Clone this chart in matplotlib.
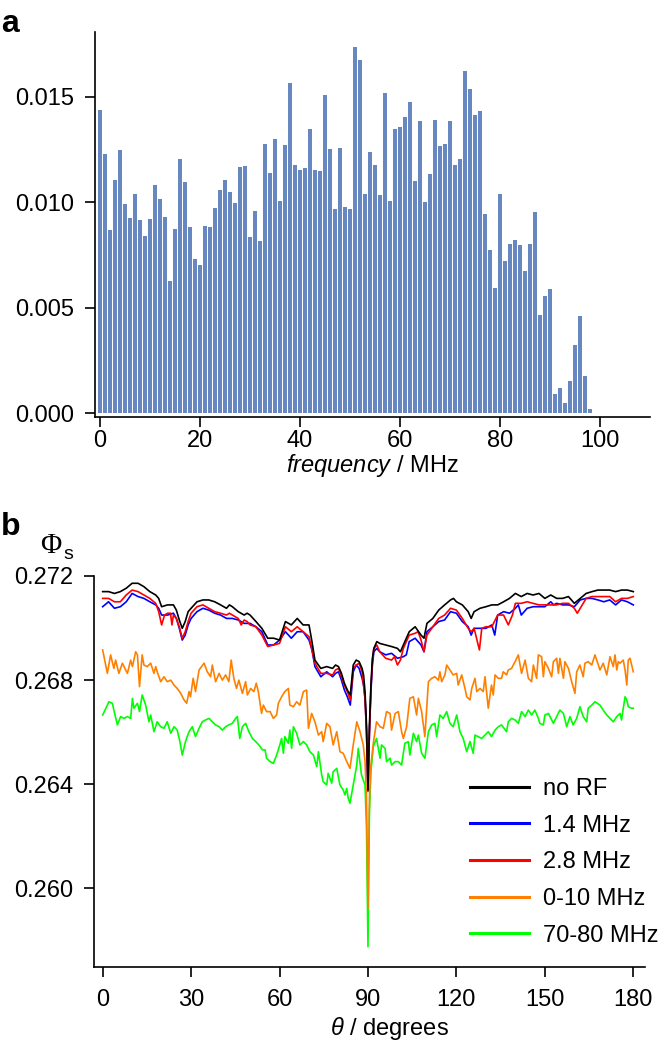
import matplotlib
matplotlib.use("Agg")
import matplotlib.pyplot as plt
from matplotlib.lines import Line2D
from matplotlib.ticker import FormatStrFormatter

plt.rcParams.update({
    "font.family": ["Liberation Sans", "DejaVu Sans"],
    "font.size": 17,
    "mathtext.fontset": "custom",
    "mathtext.rm": "Liberation Sans",
    "mathtext.it": "Liberation Sans:italic",
})

# ---- panel a: RF frequency spectrum (1 MHz bins) ----
bar_heights = [
    0.01437, 0.01228, 0.00867, 0.01104, 0.01250, 0.00992, 0.00926, 0.01039, 0.00914, 0.00840,
    0.00921, 0.01080, 0.01014, 0.00929, 0.00629, 0.00873, 0.01203, 0.01094, 0.00885, 0.00731,
    0.00704, 0.00890, 0.00882, 0.00975, 0.01058, 0.01105, 0.01047, 0.00998, 0.01165, 0.01171,
    0.00835, 0.00959, 0.00815, 0.01277, 0.01137, 0.01299, 0.01005, 0.01270, 0.01565, 0.01176,
    0.01152, 0.01164, 0.01346, 0.01152, 0.01146, 0.01508, 0.01252, 0.00966, 0.01255, 0.00976,
    0.00967, 0.01734, 0.01673, 0.01041, 0.01237, 0.01179, 0.01034, 0.01519, 0.01005, 0.01348,
    0.01357, 0.01404, 0.01475, 0.01102, 0.01384, 0.01000, 0.01132, 0.01390, 0.01269, 0.01277,
    0.01384, 0.01179, 0.01206, 0.01623, 0.01538, 0.01414, 0.01433, 0.00943, 0.00775, 0.00596,
    0.01039, 0.00722, 0.00800, 0.00821, 0.00796, 0.00673, 0.00802, 0.00956, 0.00464, 0.00555,
    0.00588, 0.00091, 0.00119, 0.00050, 0.00154, 0.00322, 0.00461, 0.00175, 0.00019,
]
freq_mhz = list(range(len(bar_heights)))

# ---- panel b: Phi_s vs theta ----
theta_black = [
    0, 2, 4, 6, 8, 10, 12, 14, 16, 18,
    19, 20, 22, 24, 25, 26, 27, 28, 29, 30,
    32, 34, 36, 38, 40, 42, 43, 44, 46, 48,
    49, 50, 52, 54, 56, 58, 60, 62, 64, 66,
    68, 70, 71, 72, 74, 76, 78, 79, 80, 81,
    82, 83, 84, 85, 86, 87, 88, 88.5, 89, 89.5,
    90, 90.5, 91, 91.5, 92, 93, 94, 96, 98, 100,
    101, 102, 104, 106, 108, 109, 110, 112, 114, 116,
    118, 119, 120, 122, 124, 125, 126, 128, 130, 132,
    134, 136, 138, 140, 142, 144, 146, 148, 150, 152,
    154, 156, 158, 160, 162, 164, 166, 168, 170, 172,
    174, 176, 178, 180,
]
phi_black = [
    0.27140, 0.27140, 0.27133, 0.27140, 0.27153, 0.27172, 0.27172, 0.27159, 0.27140, 0.27127,
    0.27114, 0.27082, 0.27089, 0.27089, 0.27069, 0.27031, 0.26999, 0.27025, 0.27063, 0.27076,
    0.27101, 0.27108, 0.27108, 0.27101, 0.27089, 0.27076, 0.27089, 0.27082, 0.27063, 0.27050,
    0.27057, 0.27050, 0.27025, 0.26999, 0.26961, 0.26961, 0.26954, 0.27025, 0.27012, 0.27037,
    0.27012, 0.27012, 0.26948, 0.26877, 0.26845, 0.26852, 0.26845, 0.26858, 0.26852, 0.26826,
    0.26788, 0.26762, 0.26743, 0.26858, 0.26877, 0.26871, 0.26845, 0.26820, 0.26756, 0.26628,
    0.26378, 0.26628, 0.26781, 0.26884, 0.26922, 0.26948, 0.26941, 0.26935, 0.26929, 0.26922,
    0.26909, 0.26935, 0.26986, 0.27005, 0.26973, 0.26961, 0.27018, 0.27037, 0.27069, 0.27089,
    0.27108, 0.27114, 0.27101, 0.27089, 0.27063, 0.27037, 0.27063, 0.27076, 0.27082, 0.27089,
    0.27089, 0.27101, 0.27114, 0.27133, 0.27121, 0.27133, 0.27127, 0.27133, 0.27114, 0.27127,
    0.27114, 0.27114, 0.27121, 0.27095, 0.27114, 0.27133, 0.27140, 0.27146, 0.27146, 0.27146,
    0.27140, 0.27146, 0.27146, 0.27140,
]

theta_blue = [
    0, 2, 4, 6, 8, 10, 12, 14, 16, 18,
    19, 20, 22, 24, 25, 26, 27, 28, 29, 30,
    32, 34, 36, 38, 40, 42, 43, 44, 46, 48,
    49, 50, 52, 54, 56, 58, 60, 62, 64, 66,
    68, 70, 71, 72, 74, 76, 78, 79, 80, 81,
    82, 83, 84, 85, 86, 87, 88, 88.5, 89, 89.5,
    90, 90.5, 91, 91.5, 92, 93, 94, 96, 98, 100,
    102, 103, 104, 106, 108, 109, 110, 112, 114, 116,
    118, 120, 122, 124, 125, 126, 128, 130, 132, 133,
    134, 136, 138, 140, 141, 142, 144, 146, 148, 150,
    152, 153, 154, 156, 158, 160, 162, 164, 166, 168,
    170, 172, 174, 176, 178, 180,
]
phi_blue = [
    0.27082, 0.27101, 0.27076, 0.27082, 0.27101, 0.27133, 0.27121, 0.27114, 0.27101, 0.27089,
    0.27076, 0.27050, 0.27050, 0.27057, 0.27037, 0.26999, 0.26954, 0.26973, 0.27012, 0.27037,
    0.27063, 0.27076, 0.27069, 0.27057, 0.27050, 0.27037, 0.27037, 0.27037, 0.27031, 0.27018,
    0.27018, 0.27018, 0.27005, 0.26986, 0.26935, 0.26935, 0.26954, 0.26986, 0.26961, 0.26986,
    0.26986, 0.26954, 0.26916, 0.26852, 0.26813, 0.26832, 0.26813, 0.26826, 0.26832, 0.26800,
    0.26762, 0.26736, 0.26704, 0.26832, 0.26858, 0.26845, 0.26807, 0.26781, 0.26730, 0.26602,
    0.26378, 0.26602, 0.26756, 0.26858, 0.26909, 0.26922, 0.26909, 0.26897, 0.26903, 0.26884,
    0.26890, 0.26897, 0.26948, 0.26961, 0.26935, 0.26909, 0.26986, 0.27005, 0.27025, 0.27031,
    0.27063, 0.27057, 0.27025, 0.27005, 0.26973, 0.26999, 0.26999, 0.26999, 0.27012, 0.26973,
    0.27050, 0.27063, 0.27057, 0.27076, 0.27089, 0.27050, 0.27076, 0.27082, 0.27082, 0.27082,
    0.27101, 0.27089, 0.27095, 0.27089, 0.27089, 0.27082, 0.27108, 0.27114, 0.27114, 0.27108,
    0.27101, 0.27108, 0.27089, 0.27108, 0.27101, 0.27089,
]

theta_red = [
    0, 2, 4, 6, 8, 10, 12, 14, 16, 18,
    19, 20, 21, 22, 23, 23.5, 24, 25, 26, 27,
    28, 29, 30, 32, 34, 36, 38, 40, 42, 43,
    44, 46, 47, 48, 49, 50, 52, 54, 56, 58,
    60, 62, 64, 66, 68, 70, 71, 72, 74, 76,
    78, 79, 80, 81, 82, 83, 84, 85, 86, 87,
    88, 88.5, 89, 89.5, 90, 90.5, 91, 91.5, 92, 93,
    94, 96, 98, 99, 100, 101, 102, 104, 106, 107,
    108, 109, 110, 112, 114, 116, 118, 120, 122, 124,
    125, 126, 127.8, 128.6, 130, 132, 134, 136, 137.6, 139,
    140, 142, 144, 146, 148, 150, 152, 154, 156, 158,
    160, 161, 162, 164, 166, 168, 170, 172, 174, 176,
    178, 180,
]
phi_red = [
    0.27114, 0.27114, 0.27101, 0.27101, 0.27127, 0.27146, 0.27140, 0.27127, 0.27114, 0.27095,
    0.27063, 0.27012, 0.27050, 0.27057, 0.27057, 0.27012, 0.27050, 0.27037, 0.27005, 0.26961,
    0.26986, 0.27025, 0.27057, 0.27082, 0.27089, 0.27076, 0.27063, 0.27057, 0.27050, 0.27057,
    0.27050, 0.27037, 0.27012, 0.27031, 0.27025, 0.27012, 0.27005, 0.26973, 0.26929, 0.26935,
    0.26941, 0.27005, 0.26986, 0.27005, 0.26986, 0.26967, 0.26916, 0.26865, 0.26826, 0.26826,
    0.26820, 0.26839, 0.26845, 0.26813, 0.26781, 0.26756, 0.26724, 0.26845, 0.26858, 0.26865,
    0.26832, 0.26781, 0.26730, 0.26602, 0.26372, 0.26602, 0.26768, 0.26871, 0.26922, 0.26935,
    0.26909, 0.26884, 0.26877, 0.26890, 0.26858, 0.26877, 0.26922, 0.26973, 0.26980, 0.26986,
    0.26954, 0.26909, 0.26973, 0.27005, 0.27037, 0.27050, 0.27076, 0.27069, 0.27037, 0.26999,
    0.26986, 0.26999, 0.26916, 0.26999, 0.27005, 0.27005, 0.27050, 0.27050, 0.27012, 0.27050,
    0.27095, 0.27095, 0.27101, 0.27095, 0.27089, 0.27089, 0.27089, 0.27089, 0.27095, 0.27095,
    0.27076, 0.27057, 0.27076, 0.27114, 0.27121, 0.27121, 0.27121, 0.27121, 0.27101, 0.27114,
    0.27114, 0.27121,
]

theta_orange = [
    0.0, 1.6, 2.7, 3.8, 4.4, 5.5, 6.7, 7.8, 8.4, 9.5,
    10.1, 11.2, 11.8, 12.5, 13.4, 14.0, 15.1, 16.3, 17.4, 18.0,
    18.5, 19.7, 20.8, 21.9, 23.1, 24.2, 25.3, 26.5, 27.6, 28.5,
    29.3, 29.8, 30.7, 31.5, 32.7, 34.4, 35.5, 36.6, 37.2, 38.3,
    39.5, 40.6, 41.7, 42.8, 43.6, 44.5, 45.4, 46.2, 47.4, 48.5,
    49.1, 50.2, 51.3, 52.1, 52.8, 53.9,
    54.5, 55.6, 56.8, 57.9, 59.0, 59.6, 60.7, 61.8, 63.0, 63.5,
    64.7, 65.8, 66.9, 68.1, 69.2, 69.8, 70.9, 72.0, 73.2, 74.3,
    74.8, 76.0, 77.1, 78.2, 79.4, 80.5, 81.6, 82.8, 83.9, 85.0,
    86.2, 87.3, 88.4, 89.0, 89.5, 90.0, 90.5, 91.0, 91.8, 92.9,
    94.1, 95.2, 96.3, 97.5, 98.0, 99.2, 100.3, 101.4, 102.0, 103.1,
    104.2, 105.4, 106.5, 107.1, 108.2, 109.3,
    110.5, 111.6, 112.7, 113.9, 114.4, 115.0, 116.1, 116.7, 117.8, 118.9,
    120.1, 120.6, 121.8, 122.9, 123.5, 124.6, 125.2, 126.3, 126.9, 128.0,
    129.1, 129.7, 130.8, 131.9, 132.5, 133.1, 134.2, 135.3, 135.9, 137.0,
    137.6, 138.7, 139.9, 141.0, 142.1, 143.3, 144.4, 145.5, 146.1, 147.2,
    147.8, 148.9, 149.5, 150.0, 151.2, 152.3, 152.9, 154.0, 154.6, 155.1,
    156.3, 156.8, 158.0, 159.1, 160.2, 160.8, 161.9, 163.0, 163.6, 164.7,
    165.9, 167.0,
    168.7, 169.8, 171.0, 172.1, 173.2, 173.8, 174.4, 174.9, 175.5, 176.6,
    177.2, 177.8, 178.3, 178.9, 180.0,
]
phi_orange = [
    0.26916, 0.26826, 0.26897, 0.26845, 0.26877, 0.26826, 0.26865, 0.26839, 0.26826, 0.26877,
    0.26852, 0.26909, 0.26897, 0.26775, 0.26897, 0.26858, 0.26852, 0.26865, 0.26826, 0.26852,
    0.26832, 0.26794, 0.26813, 0.26794, 0.26800, 0.26781, 0.26768, 0.26749, 0.26724, 0.26711,
    0.26756, 0.26736, 0.26807, 0.26756, 0.26839, 0.26865, 0.26832, 0.26813, 0.26858, 0.26794,
    0.26826, 0.26800, 0.26820, 0.26794, 0.26877, 0.26807, 0.26768, 0.26800, 0.26749, 0.26794,
    0.26743, 0.26768, 0.26756, 0.26788, 0.26756, 0.26672,
    0.26704, 0.26679, 0.26679, 0.26653, 0.26666, 0.26711, 0.26736, 0.26756, 0.26768, 0.26704,
    0.26698, 0.26717, 0.26704, 0.26756, 0.26762, 0.26615, 0.26672, 0.26640, 0.26589, 0.26602,
    0.26564, 0.26634, 0.26621, 0.26551, 0.26602, 0.26525, 0.26519, 0.26487, 0.26461, 0.26551,
    0.26640, 0.26602, 0.26551, 0.26487, 0.26346, 0.25924, 0.26346, 0.26474, 0.26557, 0.26640,
    0.26621, 0.26615, 0.26679, 0.26672, 0.26608, 0.26672, 0.26679, 0.26602, 0.26576, 0.26621,
    0.26730, 0.26736, 0.26666, 0.26730, 0.26679, 0.26583,
    0.26794, 0.26807, 0.26813, 0.26800, 0.26832, 0.26794, 0.26820, 0.26858, 0.26839, 0.26820,
    0.26826, 0.26781, 0.26820, 0.26768, 0.26736, 0.26724, 0.26768, 0.26807, 0.26756, 0.26768,
    0.26756, 0.26813, 0.26692, 0.26781, 0.26743, 0.26820, 0.26807, 0.26807, 0.26832, 0.26820,
    0.26839, 0.26845, 0.26871, 0.26897, 0.26826, 0.26877, 0.26807, 0.26794, 0.26858, 0.26807,
    0.26897, 0.26890, 0.26813, 0.26871, 0.26845, 0.26813, 0.26871, 0.26884, 0.26826, 0.26884,
    0.26807, 0.26871, 0.26845, 0.26794, 0.26749, 0.26832, 0.26858, 0.26813, 0.26865, 0.26871,
    0.26858, 0.26897,
    0.26839, 0.26865, 0.26820, 0.26890, 0.26852, 0.26897, 0.26839, 0.26871, 0.26865, 0.26877,
    0.26839, 0.26781, 0.26877, 0.26884, 0.26832,
]

theta_green = [
    0.0, 1.6, 2.1, 3.3, 3.8, 5.0, 6.1, 7.2, 8.4, 9.5,
    10.1, 10.6, 11.8, 12.5, 13.4, 14.6, 15.7, 16.3, 17.4, 18.5,
    19.7, 20.8, 21.9, 23.1, 24.2, 25.3, 26.2, 27.0, 28.1, 29.3,
    30.4, 31.5, 32.7, 33.8, 34.9, 36.1, 37.2, 38.3, 39.5, 40.6,
    41.7, 42.8, 44.0, 45.1, 45.7, 46.5, 47.4, 48.5, 49.6, 50.8,
    51.9, 53.0, 54.2,
    55.1, 55.6, 56.8, 57.9, 59.0, 60.1, 60.7, 61.3, 61.8, 63.0,
    63.5, 64.1, 64.7, 65.8, 66.9, 68.1, 69.2, 70.3, 71.5, 72.6,
    73.2, 74.3, 74.8, 76.0, 76.5, 77.7, 78.2, 79.4, 80.5, 81.6,
    82.2, 82.8, 83.3, 83.9, 85.0, 86.2, 86.7, 87.8, 89.0, 89.5,
    90.0, 90.5, 91.0, 91.8, 92.9, 94.1, 94.6, 95.8, 96.3, 97.5,
    98.0, 99.2, 100.3, 101.4, 102.5, 103.7, 104.2, 105.4, 106.5, 107.1,
    108.2, 109.3,
    110.5, 111.6, 112.7, 113.3, 114.4, 115.5, 116.7, 117.8, 118.9, 120.1,
    121.2, 122.3, 123.5, 124.6, 125.7, 126.3, 127.4, 128.6, 129.7, 130.8,
    131.9, 133.1, 134.2, 135.3, 137.0, 137.6, 138.7, 139.9, 141.0, 142.1,
    143.3, 144.4, 145.5, 146.6, 147.8, 148.3, 149.5, 150.0, 151.2, 152.9,
    154.0, 155.1, 156.3, 157.4, 158.5, 159.6, 160.8, 161.9, 163.0, 164.2,
    164.7, 165.9, 167.0,
    168.7, 169.8, 171.0, 172.1, 173.2, 174.4, 175.5, 176.0, 177.2, 177.8,
    178.3, 179.4, 180.0,
]
phi_green = [
    0.26666, 0.26704, 0.26717, 0.26711, 0.26685, 0.26628, 0.26660, 0.26653, 0.26660, 0.26653,
    0.26730, 0.26692, 0.26711, 0.26679, 0.26743, 0.26704, 0.26640, 0.26666, 0.26602, 0.26640,
    0.26621, 0.26615, 0.26640, 0.26596, 0.26621, 0.26608, 0.26564, 0.26512, 0.26564, 0.26602,
    0.26621, 0.26583, 0.26615, 0.26640, 0.26647, 0.26653, 0.26640, 0.26628, 0.26621, 0.26608,
    0.26621, 0.26628, 0.26634, 0.26653, 0.26660, 0.26576, 0.26621, 0.26634, 0.26602, 0.26576,
    0.26564, 0.26551, 0.26532,
    0.26532, 0.26500, 0.26487, 0.26480, 0.26512, 0.26551, 0.26576, 0.26519, 0.26583, 0.26557,
    0.26608, 0.26538, 0.26621, 0.26596, 0.26551, 0.26564, 0.26551, 0.26525, 0.26512, 0.26468,
    0.26525, 0.26436, 0.26410, 0.26397, 0.26442, 0.26404, 0.26448, 0.26461, 0.26397, 0.26378,
    0.26359, 0.26384, 0.26346, 0.26327, 0.26397, 0.26474, 0.26538, 0.26436, 0.26397, 0.26231,
    0.25776, 0.26295, 0.26448, 0.26544, 0.26576, 0.26500, 0.26551, 0.26538, 0.26487, 0.26500,
    0.26474, 0.26487, 0.26487, 0.26474, 0.26557, 0.26564, 0.26512, 0.26596, 0.26564, 0.26589,
    0.26519, 0.26500,
    0.26602, 0.26628, 0.26634, 0.26583, 0.26666, 0.26653, 0.26679, 0.26634, 0.26621, 0.26666,
    0.26602, 0.26576, 0.26525, 0.26564, 0.26519, 0.26589, 0.26583, 0.26576, 0.26589, 0.26602,
    0.26583, 0.26608, 0.26621, 0.26628, 0.26602, 0.26640, 0.26653, 0.26647, 0.26634, 0.26679,
    0.26660, 0.26685, 0.26666, 0.26685, 0.26653, 0.26634, 0.26628, 0.26666, 0.26672, 0.26634,
    0.26660, 0.26685, 0.26672, 0.26621, 0.26660, 0.26628, 0.26653, 0.26698, 0.26660, 0.26640,
    0.26692, 0.26704, 0.26717,
    0.26704, 0.26685, 0.26666, 0.26653, 0.26640, 0.26660, 0.26672, 0.26647, 0.26736, 0.26724,
    0.26698, 0.26692, 0.26692,
]

series_labels = ["no RF", "1.4 MHz", "2.8 MHz", "0-10 MHz", "70-80 MHz"]
series_colors = ["#000000", "#0000ff", "#ff0000", "#ff8000", "#00ff00"]

W, H = 660, 1042


def fx(x):
    return x / W


def fy(y):
    return 1 - y / H


def px_box(left, top, right, bottom):
    return [left / W, 1 - bottom / H, (right - left) / W, (bottom - top) / H]


def style_axes(ax, xpad):
    for s in ("top", "right"):
        ax.spines[s].set_visible(False)
    for s in ("left", "bottom"):
        ax.spines[s].set_linewidth(1.2)
    ax.tick_params(direction="out", length=7, width=1.2, labelsize=17, colors="#000000")
    ax.tick_params(axis="y", pad=8)
    ax.tick_params(axis="x", pad=xpad)


fig = plt.figure(figsize=(6.6, 10.42), dpi=100)

# panel a
ax1 = fig.add_axes(px_box(95, 32, 650, 417))
ax1.bar(freq_mhz, bar_heights, width=0.62, color="#6787c0", linewidth=0)
ax1.set_xlim(-1, 110)
ax1.set_ylim(-0.000175, 0.01807)
ax1.set_xticks([0, 20, 40, 60, 80, 100])
ax1.set_yticks([0.0, 0.005, 0.010, 0.015])
ax1.yaxis.set_major_formatter(FormatStrFormatter("%.3f"))
style_axes(ax1, xpad=2.5)
fig.text(fx(372), fy(465), r"$\it{frequency}$ / MHz", ha="center", va="center", fontsize=17)

# panel b
ax2 = fig.add_axes(px_box(94.4, 576, 644.5, 967))
ax2.plot(theta_green, phi_green, color=series_colors[4], lw=1.2)
ax2.plot(theta_orange, phi_orange, color=series_colors[3], lw=1.2)
ax2.plot(theta_blue, phi_blue, color=series_colors[1], lw=1.2)
ax2.plot(theta_red, phi_red, color=series_colors[2], lw=1.2)
ax2.plot(theta_black, phi_black, color=series_colors[0], lw=1.2)
ax2.set_xlim(-2.8, 183.8)
ax2.set_ylim(0.25698, 0.2720)
ax2.set_xticks([0, 30, 60, 90, 120, 150, 180])
ax2.set_yticks([0.260, 0.264, 0.268, 0.272])
ax2.yaxis.set_major_formatter(FormatStrFormatter("%.3f"))
style_axes(ax2, xpad=9)
fig.text(fx(389), fy(1028), r"$\it{θ}$ / degrees", ha="center", va="center", fontsize=17)

handles = [Line2D([], [], color=c, lw=2.2) for c in series_colors]
ax2.legend(handles, series_labels, loc="upper left",
           bbox_to_anchor=(fx(470), fy(778)), bbox_transform=fig.transFigure,
           frameon=False, fontsize=17, handlelength=2.5, handletextpad=0.58,
           labelspacing=0.62, borderaxespad=0, borderpad=0)

# panel letters and Phi_s axis title
fig.text(fx(1), fy(32), "a", fontsize=23, fontweight="bold", ha="left", va="baseline")
fig.text(fx(1), fy(535), "b", fontsize=23, fontweight="bold", ha="left", va="baseline")
fig.text(fx(51), fy(553), "Φ", family=["Liberation Serif", "DejaVu Serif"], fontsize=21,
         ha="center", va="baseline")
fig.text(fx(63), fy(559), "s", fontsize=14, ha="left", va="baseline")

fig.savefig("out.png", dpi=100)
